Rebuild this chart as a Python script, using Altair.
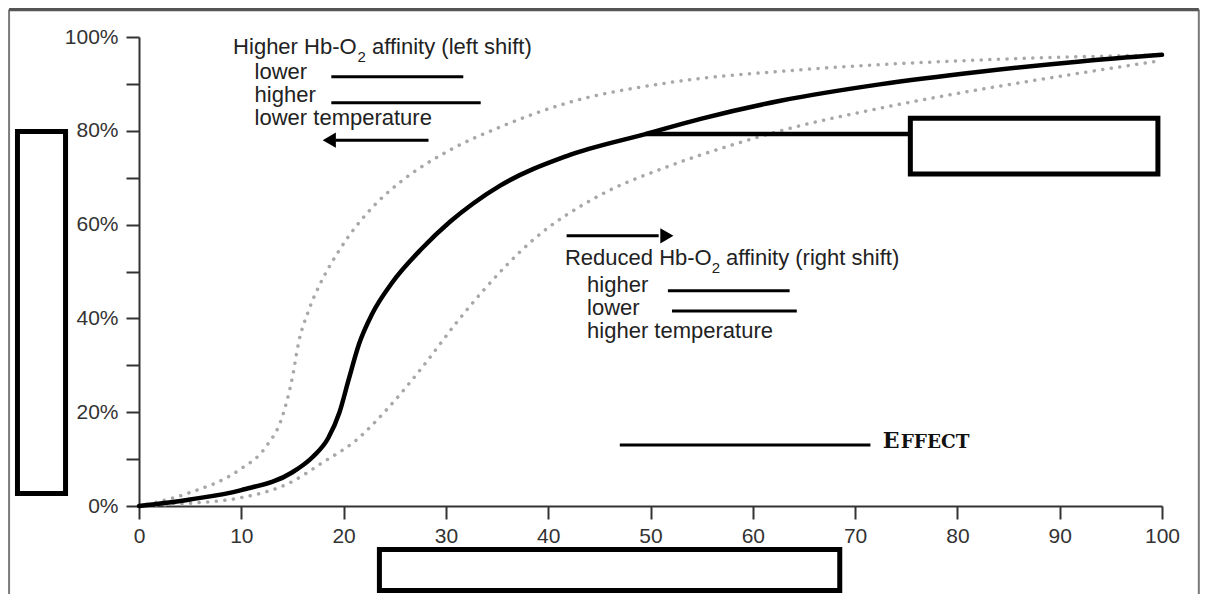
import altair as alt
import pandas as pd

# ---------------- data ----------------
# oxygen saturation curves (x = pO2, y = % saturation)
normal_x = [0, 5, 10, 15, 17, 18.5, 19.6, 20.5, 21.5, 22.8, 24.7, 27.7, 30.4, 32.6, 35.3, 41.8, 49.5, 55, 62.7, 72.4, 82.2, 92, 100]
normal_y = [0, 1.4, 3.4, 7.2, 10.5, 14.5, 20, 27, 34.5, 41, 47.5, 55, 60.6, 64.4, 68.3, 74.6, 79.3, 82.6, 86.4, 89.9, 92.6, 94.8, 96.2]
left_x = [0, 4.9, 9.8, 12.4, 14, 15, 15.6, 16.6, 17.9, 19.6, 23.5, 25.5, 30.4, 35.3, 41.8, 51.6, 64.6, 82.2, 100]
left_y = [0, 2.8, 7.7, 12.6, 19, 27.5, 34.8, 41.8, 48.2, 54.6, 65.2, 69.0, 75.9, 80.8, 85.9, 90.2, 93, 95.1, 96.2]
right_x = [0, 5, 9.8, 14.7, 17.9, 21.2, 24.4, 27.7, 31, 33.6, 38.5, 45, 51.6, 58, 62.7, 72.4, 82.2, 92, 100]
right_y = [0, 0.6, 1.7, 4.9, 9.2, 14, 21, 29.6, 39, 45.8, 56.7, 66.2, 72.3, 77.0, 80.0, 84.8, 88.8, 92.3, 95.0]

# tick values
x_ticks = [0, 10, 20, 30, 40, 50, 60, 70, 80, 90, 100]
y_ticks = [0, 10, 20, 30, 40, 50, 60, 70, 80, 90, 100]

# annotation texts (anchor in data units)
text_str = ["Higher Hb-O", "affinity (left shift)", "lower", "higher", "lower temperature",
            "Reduced Hb-O", "affinity (right shift)", "higher", "lower", "higher temperature"]
text_x = [9.2, 22.78, 11.3, 11.3, 11.3, 41.64, 57.38, 43.8, 43.8, 43.8]
text_y = [97.9, 97.9, 92.6, 87.7, 82.8, 52.8, 52.8, 47.1, 42.2, 37.3]
sub_str = ["2", "2"]
sub_x = [21.36, 55.98]
sub_y = [95.7, 50.7]

# fill-in blank lines
blank_x1 = [18.8, 18.8, 51.7, 52.1, 47.0]
blank_x2 = [31.7, 33.4, 63.6, 64.3, 71.5]
blank_y = [91.5, 86.0, 45.9, 41.6, 13.0]

# arrows
arrow_x1 = [19.2, 41.8]
arrow_x2 = [28.3, 50.8]
arrow_y = [78.0, 57.6]
arrow_head_x = [18.6, 51.6]
arrow_head_shape = ["triangle-left", "triangle-right"]

# connector from curve to the answer box
conn_x1 = [49.5]
conn_x2 = [75.4]
conn_y = [79.3]

# empty answer boxes
box_x1 = [75.4, -11.88, 23.5]
box_x2 = [99.6, -7.18, 68.5]
box_y1 = [82.7, 79.85, -9.3]
box_y2 = [70.8, 2.67, -18.0]

# "Effect" label
effect_big = ["E"]
effect_small = ["FFECT"]
effect_x = [72.7]
effect_y = [14.1]

# page frame
frame_left, frame_right, frame_top, frame_bottom = -12.7, 103.6, 105.86, -25

# ---------------- chart ----------------
sx = alt.Scale(domain=[0, 100], nice=False, zero=False)
sy = alt.Scale(domain=[0, 100], nice=False, zero=False)

x_axis = alt.Axis(values=x_ticks, title=None, grid=False, domainColor="#333", domainWidth=2,
                  tickColor="#333", tickWidth=2, tickSize=13, labelFont="Liberation Sans",
                  labelFontSize=21, labelColor="#333", labelPadding=6, labelFlush=False,
                  labelOverlap=False)
y_axis = alt.Axis(values=y_ticks, title=None, grid=False, domainColor="#333", domainWidth=2,
                  tickColor="#333", tickWidth=2, tickSize=13, labelFont="Liberation Sans",
                  labelFontSize=21, labelColor="#333", labelPadding=8, labelFlush=False,
                  labelOverlap=False,
                  labelExpr="datum.value % 20 === 0 ? datum.value + '%' : ''")


def X(f):
    return alt.X(f, type="quantitative", scale=sx, axis=x_axis)


def Y(f):
    return alt.Y(f, type="quantitative", scale=sy, axis=y_axis)


curves = pd.concat([
    pd.DataFrame({"x": left_x, "y": left_y, "c": "left"}),
    pd.DataFrame({"x": right_x, "y": right_y, "c": "right"}),
])
normal = pd.DataFrame({"x": normal_x, "y": normal_y})

frame_sides = pd.DataFrame({"x": [frame_left, frame_right], "y": [frame_top] * 2, "y2": [frame_bottom] * 2})
frame_top_df = pd.DataFrame({"x": [frame_left], "x2": [frame_right], "y": [frame_top]})

frame_side_layer = alt.Chart(frame_sides).mark_rule(color="#7a7a7a", strokeWidth=2).encode(
    x=X("x"), y=Y("y"), y2="y2")
frame_top_layer = alt.Chart(frame_top_df).mark_rule(color="#555", strokeWidth=3.5).encode(
    x=X("x"), x2="x2", y=Y("y"))

dotted = alt.Chart(curves).mark_line(color="#a8a8a8", strokeWidth=3.5, strokeDash=[0.1, 8.5],
                                     strokeCap="round", interpolate="monotone").encode(
    x=X("x"), y=Y("y"), detail="c:N")
solid = alt.Chart(normal).mark_line(color="black", strokeWidth=4.5, interpolate="monotone",
                                    strokeCap="round").encode(x=X("x"), y=Y("y"))

boxes = pd.DataFrame({"x": box_x1, "x2": box_x2, "y": box_y1, "y2": box_y2})
box_layer = alt.Chart(boxes).mark_rect(fill="white", stroke="black", strokeWidth=5).encode(
    x=X("x"), x2="x2", y=Y("y"), y2="y2")

conn = pd.DataFrame({"x": conn_x1, "x2": conn_x2, "y": conn_y})
conn_layer = alt.Chart(conn).mark_rule(color="black", strokeWidth=4.5).encode(
    x=X("x"), x2="x2", y=Y("y"))

blanks = pd.DataFrame({"x": blank_x1, "x2": blank_x2, "y": blank_y})
blank_layer = alt.Chart(blanks).mark_rule(color="black", strokeWidth=3).encode(
    x=X("x"), x2="x2", y=Y("y"))

arrows = pd.DataFrame({"x": arrow_x1, "x2": arrow_x2, "y": arrow_y})
arrow_layer = alt.Chart(arrows).mark_rule(color="black", strokeWidth=3).encode(
    x=X("x"), x2="x2", y=Y("y"))
heads = pd.DataFrame({"x": arrow_head_x, "y": arrow_y, "s": arrow_head_shape})
head_layer = alt.Chart(heads).mark_point(filled=True, color="black", size=230, opacity=1).encode(
    x=X("x"), y=Y("y"), shape=alt.Shape("s:N", scale=None, legend=None))

texts = pd.DataFrame({"x": text_x, "y": text_y, "t": text_str})
text_layer = alt.Chart(texts).mark_text(align="left", baseline="middle", font="Liberation Sans",
                                        fontSize=22, color="#222").encode(
    x=X("x"), y=Y("y"), text="t:N")
subs = pd.DataFrame({"x": sub_x, "y": sub_y, "t": sub_str})
sub_layer = alt.Chart(subs).mark_text(align="left", baseline="middle", font="Liberation Sans",
                                      fontSize=15, color="#222").encode(
    x=X("x"), y=Y("y"), text="t:N")

eff_big = pd.DataFrame({"x": effect_x, "y": effect_y, "t": effect_big})
eff_big_layer = alt.Chart(eff_big).mark_text(align="left", baseline="alphabetic", font="DejaVu Serif",
                                             fontWeight="bold", fontSize=22, color="#111", dy=8).encode(
    x=X("x"), y=Y("y"), text="t:N")
eff_small = pd.DataFrame({"x": effect_x, "y": effect_y, "t": effect_small})
eff_small_layer = alt.Chart(eff_small).mark_text(align="left", baseline="alphabetic", font="DejaVu Serif",
                                                 fontWeight="bold", fontSize=18.5, color="#111",
                                                 dx=18, dy=8).encode(
    x=X("x"), y=Y("y"), text="t:N")

chart = alt.layer(
    frame_side_layer, frame_top_layer, box_layer, dotted, solid, conn_layer, blank_layer,
    arrow_layer, head_layer, text_layer, sub_layer, eff_big_layer, eff_small_layer
).properties(
    width=1023, height=469,
    padding={"left": 131, "top": 29, "right": 38, "bottom": 88},
    autosize=alt.AutoSizeParams(type="none"),
    background="white",
).configure_view(strokeWidth=0)

chart.save("out.html", embed_options={"renderer": "svg", "actions": False})
